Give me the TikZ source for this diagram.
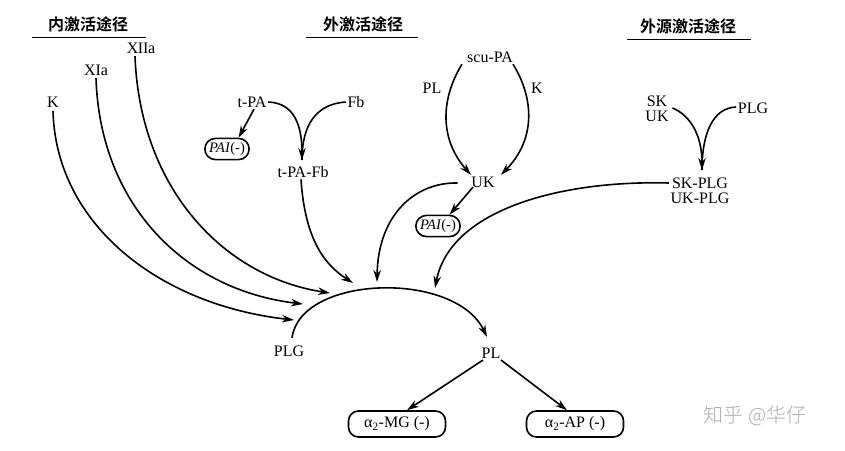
\documentclass[tikz,border=0pt]{standalone}
\usepackage{fontspec}
\setmainfont{Liberation Serif}
\newfontfamily\cjkb[BoldFont={Noto Sans CJK SC Bold}]{Noto Sans CJK SC}
\newfontfamily\cjkl{Noto Sans CJK SC Light}
\usetikzlibrary{arrows.meta,shapes.misc}
\begin{document}
\begin{tikzpicture}[x=1pt,y=-1pt,
  line width=1.6pt,
  arr/.style={-{Stealth[length=12pt,width=7.5pt]}},
  lbl/.style={inner sep=1pt,font=\fontsize{16}{18}\selectfont},
  ttl/.style={inner sep=1pt,font=\cjkb\bfseries\fontsize{16}{18}\selectfont},
  pai/.style={draw,rounded rectangle,line width=1.6pt,inner xsep=2pt,inner ysep=4pt,font=\fontsize{14.5}{16}\selectfont},
  inh/.style={draw,rounded corners=10pt,line width=1.6pt,minimum width=97pt,minimum height=26pt,font=\fontsize{16}{18}\selectfont}]
\useasboundingbox (0,0) rectangle (845,450);
% titles
\node[ttl] (t1) at (88,24) {内激活途径};
\node[ttl] (t2) at (363,24) {外激活途径};
\node[ttl] (t3) at (688,26) {外源激活途径};
\draw[line width=1.3pt] ([xshift=-14pt,yshift=-4pt]t1.south west) -- ([xshift=16pt,yshift=-4pt]t1.south east);
\draw[line width=1.3pt] ([xshift=-15pt,yshift=-4pt]t2.south west) -- ([xshift=13pt,yshift=-4pt]t2.south east);
\draw[line width=1.3pt] ([xshift=-11pt,yshift=-4pt]t3.south west) -- ([xshift=13pt,yshift=-4pt]t3.south east);
% intrinsic
\node[lbl] (xiia) at (141,48) {X\kern-0.5pt II\kern-0.5pt a};
\node[lbl] (xia) at (96,70) {XIa};
\node[lbl] (k) at (53,102) {K};
% extrinsic
\node[lbl] (tpa) at (252,102) {t-PA};
\node[lbl] (fb) at (356,102) {Fb};
\node[pai] (pai1) at (227,149) {\textit{PAI}(-)};
\node[lbl] (tpafb) at (303,172) {t-PA-Fb};
\coordinate (j1) at (302,160);
% scu-PA
\node[lbl] (scupa) at (490,57) {scu-PA};
\node[lbl] (pllab) at (432,88) {PL};
\node[lbl] (klab) at (537,88) {K};
\node[lbl] (uk) at (483,182) {UK};
\node[pai] (pai2) at (438,226) {\textit{PAI}(-)};
% exogenous
\node[lbl,align=center] (skuk) at (657,109) {SK\\[-3pt]UK};
\node[lbl] (plg1) at (753,108) {PLG};
\node[lbl,align=center] (skplg) at (700,191) {SK-PLG\\[-3pt]UK-PLG};
\coordinate (j2) at (702,170);
% main
\node[lbl] (plg) at (289,351) {PLG};
\node[lbl] (pl) at (491,353) {PL};
\node[inh] (mg) at (397,424) {α\textsubscript{2}-MG (-)};
\node[inh] (ap) at (575,424) {α\textsubscript{2}-AP (-)};
% arc target points
\coordinate (a1) at (294,320);
\coordinate (a2) at (303,304);
\coordinate (a3) at (330,293);
\coordinate (a4) at (353,283);
\coordinate (a5) at (377,282);
\coordinate (a6) at (435,288);
\coordinate (plgs) at (292,338);
\coordinate (plt) at (487,337);
% intrinsic curves
\draw[arr] ([yshift=-2pt]k.south) .. controls (56,225) and (160,305) .. (a1);
\draw[arr] ([yshift=-1pt]xia.south) .. controls (100,205) and (185,290) .. (a2);
\draw[arr] ([xshift=-6pt,yshift=-1pt]xiia.south) .. controls (140,190) and (225,277) .. (a3);
% extrinsic
\draw[arr] (tpa.east) .. controls (294,103) and (302,125) .. (j1);
\draw (fb.west) .. controls (316,104) and (302,125) .. (j1);
\draw[arr] ([xshift=2pt]tpa.south) -- (pai1.north east);
\draw[arr] ([xshift=-2pt]tpafb.south) .. controls (305,240) and (325,265) .. (a4);
% scu-PA
\draw[arr] ([xshift=-28pt]scupa.south) .. controls (440,100) and (440,140) .. ([xshift=-12pt]uk.north);
\draw[arr] ([xshift=23pt]scupa.south) .. controls (535,100) and (535,140) .. ([xshift=18pt]uk.north);
\draw[arr] ([xshift=-12pt,yshift=-1pt]uk.west) .. controls (415,182) and (378,215) .. (a5);
\draw[arr] ([xshift=-10pt,yshift=2pt]uk.south) -- (pai2.north east);
% exogenous
\draw[arr] ([xshift=2pt,yshift=1pt]skuk.east) .. controls (690,115) and (702,135) .. (j2);
\draw ([yshift=1pt]plg1.west) .. controls (712,108) and (702,135) .. (j2);
\draw[arr] ([yshift=8pt]skplg.west) .. controls (560,180) and (450,210) .. (a6);
% main arc
\draw[arr] (plgs) .. controls (300,275) and (455,270) .. (plt);
\draw[arr] ([xshift=-8pt]pl.south) -- ([xshift=10pt]mg.north);
\draw[arr] ([xshift=10pt]pl.south) -- ([xshift=-8pt]ap.north);
% watermark
\node[inner sep=0pt,text=black!32,font=\cjkl\fontsize{20}{22}\selectfont] (wm) at (755,416) {知乎 @华仔};
\end{tikzpicture}
\end{document}
